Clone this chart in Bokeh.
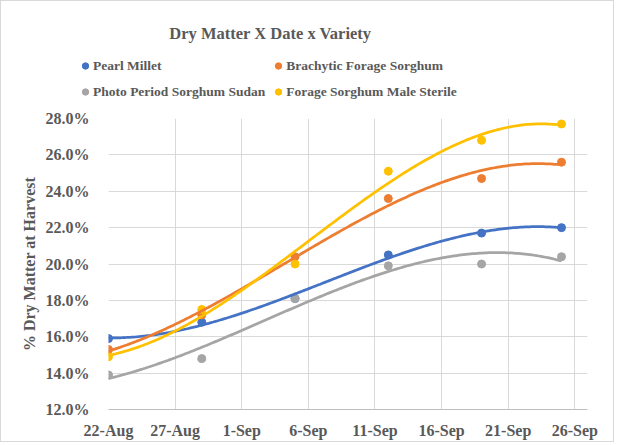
import numpy as np
import pandas as pd
from bokeh.plotting import figure
from bokeh.layouts import column
from bokeh.models import FixedTicker, Label, Legend, LegendItem, NumeralTickFormatter, Range1d
from bokeh.embed import file_html
from bokeh.resources import INLINE

# ---- data ----
dates = ["2019-08-22", "2019-08-29", "2019-09-05", "2019-09-12", "2019-09-19", "2019-09-25"]
pearl_millet = [0.159, 0.168, 0.181, 0.205, 0.217, 0.220]
brachytic_forage_sorghum = [0.153, 0.172, 0.204, 0.236, 0.247, 0.256]
photo_period_sorghum_sudan = [0.139, 0.148, 0.181, 0.199, 0.200, 0.204]
forage_sorghum_male_sterile = [0.149, 0.175, 0.200, 0.251, 0.268, 0.277]
series_names = ["Pearl Millet", "Brachytic Forage Sorghum",
                "Photo Period Sorghum Sudan", "Forage Sorghum Male Sterile"]
series_colors = ["#4472C4", "#ED7D31", "#A5A5A5", "#FFC000"]
x_tick_labels = ["22-Aug", "27-Aug", "1-Sep", "6-Sep", "11-Sep", "16-Sep", "21-Sep", "26-Sep"]
y_ticks = [0.12, 0.14, 0.16, 0.18, 0.20, 0.22, 0.24, 0.26, 0.28]

FONT = "Liberation Serif"
TXT = "#595959"
GRID = "#D9D9D9"
W = 612

origin = pd.Timestamp("2019-08-22")
days = np.array([(pd.Timestamp(d) - origin).days for d in dates], dtype=float)
tick_days = [(pd.to_datetime(t + "-2019", format="%d-%b-%Y") - origin).days for t in x_tick_labels]
all_series = [pearl_millet, brachytic_forage_sorghum, photo_period_sorghum_sudan, forage_sorghum_male_sterile]

# ---- header (title + legend) ----
HEAD_H = 105
head = figure(width=W, height=HEAD_H, output_backend="svg", toolbar_location=None,
              x_range=Range1d(-100, -99), y_range=Range1d(-100, -99),
              min_border=0, min_border_left=0, min_border_right=0,
              min_border_top=0, min_border_bottom=0)
head.frame_align = False
head.axis.visible = False
head.grid.visible = False
head.outline_line_color = None
head.background_fill_color = "white"
head.border_fill_color = "white"

title = Label(x=269, y=HEAD_H - 32, x_units="screen", y_units="screen",
              text="Dry Matter X Date x Variety", text_align="center", text_baseline="middle",
              text_font=FONT, text_font_style="bold", text_font_size="16.5px", text_color=TXT)
head.add_layout(title)

legend_renderers = {}
for vals, name, col in zip(all_series, series_names, series_colors):
    # same data, kept outside the header's visible range: only feeds the legend swatch
    legend_renderers[name] = head.scatter(days, vals, size=8, color=col)
# order so that a 2-column (column-major) legend reads row-wise like the reference
legend_order = [series_names[0], series_names[2], series_names[1], series_names[3]]
items = [LegendItem(label=n, renderers=[legend_renderers[n]]) for n in legend_order]
legend = Legend(items=items, ncols=2, location=(76, 4),
                label_text_font=FONT, label_text_font_style="bold",
                label_text_font_size="13.5px", label_text_color=TXT,
                glyph_width=16, glyph_height=21, label_height=21, label_standoff=0,
                spacing=5, padding=0, margin=0, border_line_color=None,
                background_fill_alpha=0)
head.add_layout(legend, "center")

# ---- main chart ----
p = figure(width=W, height=440 - HEAD_H, output_backend="svg", toolbar_location=None,
           x_range=Range1d(0, 35.95), y_range=Range1d(0.12, 0.28),
           min_border_left=107, min_border_right=W - 107 - 479,
           min_border_top=117 - HEAD_H, min_border_bottom=440 - 117 - 294)
p.frame_align = False
p.outline_line_color = None
p.background_fill_color = "white"
p.border_fill_color = "white"

p.xaxis.ticker = FixedTicker(ticks=tick_days)
p.xaxis.major_label_overrides = {d: lab for d, lab in zip(tick_days, x_tick_labels)}
p.yaxis.ticker = FixedTicker(ticks=y_ticks)
p.yaxis.formatter = NumeralTickFormatter(format="0.0%")
for ax in (p.xaxis, p.yaxis):
    ax.major_tick_line_color = None
    ax.minor_tick_line_color = None
    ax.major_label_text_font = FONT
    ax.major_label_text_font_style = "bold"
    ax.major_label_text_font_size = "16px"
    ax.major_label_text_color = TXT
p.xaxis.axis_line_color = "#BFBFBF"
p.yaxis.axis_line_color = None
p.xaxis.major_label_standoff = 6
p.yaxis.major_label_standoff = 13
p.yaxis.axis_label = "% Dry Matter at Harvest"
p.yaxis.axis_label_text_font = FONT
p.yaxis.axis_label_text_font_style = "bold"
p.yaxis.axis_label_text_font_size = "16px"
p.yaxis.axis_label_text_color = TXT
p.yaxis.axis_label_standoff = 5

p.xgrid.ticker = FixedTicker(ticks=tick_days)
p.ygrid.ticker = FixedTicker(ticks=y_ticks)
p.xgrid.grid_line_color = GRID
p.ygrid.grid_line_color = GRID

# series: points + 3rd-order polynomial trendlines (fitted from the data)
xs = np.linspace(days.min(), days.max(), 200)
for vals, col in zip(all_series, series_colors):
    p.scatter(days, vals, size=8, color=col)
for vals, col in zip(all_series, series_colors):
    coef = np.polyfit(days, np.array(vals), 3)
    p.line(xs, np.polyval(coef, xs), line_width=2.75, color=col)

layout = column(head, p, spacing=0)
layout.styles = {"border": "1px solid #D9D9D9"}

open("out.html", "w").write(file_html(layout, INLINE))
